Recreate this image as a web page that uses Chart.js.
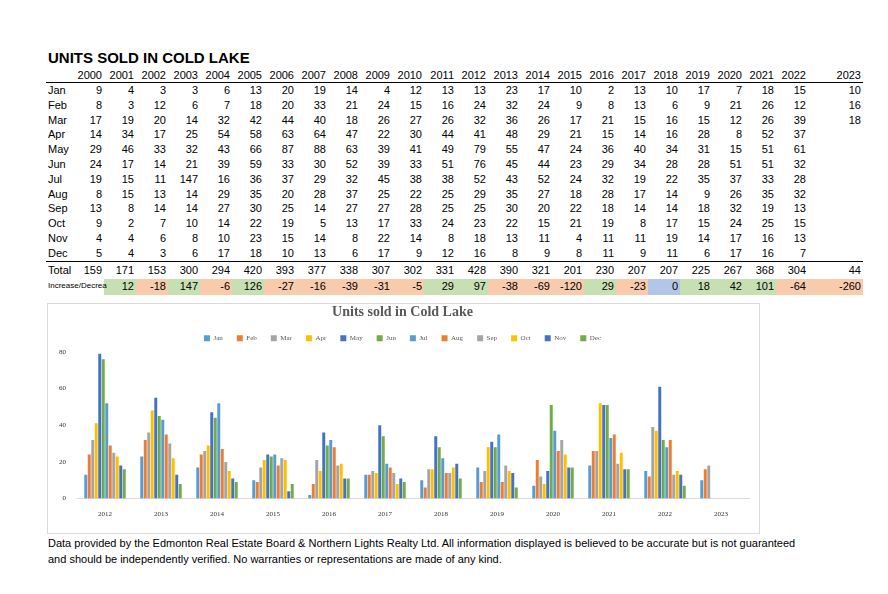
<!DOCTYPE html>
<html><head><meta charset="utf-8">
<script src="https://cdn.jsdelivr.net/npm/chart.js@4/dist/chart.umd.min.js"></script>
<style>
body{margin:0;background:#fff;font-family:Arial,"Liberation Sans",sans-serif;}
#title{position:absolute;left:48px;top:49px;font-weight:bold;font-size:15px;}
#tbl{position:absolute;left:46px;top:68px;width:817px;border-collapse:collapse;table-layout:fixed;font-size:11px;}
#tbl td{padding:0 2px 0 0;height:14.8px;line-height:14.8px;text-align:right;white-space:nowrap;overflow:hidden;}
#tbl td.lab{text-align:left;padding-left:2px;overflow:visible;position:relative;z-index:1;}
#tbl tr.hd td{border-bottom:1px solid #000;height:14px;line-height:14px;}
#tbl tr.tot td{border-top:1.5px solid #000;height:17px;}
#tbl tr.inc td{height:16px;}
#box{position:absolute;left:47px;top:303px;width:711px;height:229px;border:1px solid #d9d9d9;}
#foot{position:absolute;left:48px;top:535px;font-size:11px;line-height:16px;}
</style></head><body>
<div id="title">UNITS SOLD IN COLD LAKE</div>
<table id="tbl"></table>
<div id="box"><canvas id="grafico" width="711" height="229"></canvas></div>
<div id="foot">Data provided by the Edmonton Real Estate Board &amp; Northern Lights Realty Ltd. All information displayed is believed to be accurate but is not guaranteed<br>and should be independently verified. No warranties or representations are made of any kind.</div>
<script>
var anos = [2000,2001,2002,2003,2004,2005,2006,2007,2008,2009,2010,2011,2012,2013,2014,2015,2016,2017,2018,2019,2020,2021,2022,2023];
var meses = ['Jan','Feb','Mar','Apr','May','Jun','Jul','Aug','Sep','Oct','Nov','Dec'];
var jan = [9,4,3,3,6,13,20,19,14,4,12,13,13,23,17,10,2,13,10,17,7,18,15,10];
var feb = [8,3,12,6,7,18,20,33,21,24,15,16,24,32,24,9,8,13,6,9,21,26,12,16];
var mar = [17,19,20,14,32,42,44,40,18,26,27,26,32,36,26,17,21,15,16,15,12,26,39,18];
var apr = [14,34,17,25,54,58,63,64,47,22,30,44,41,48,29,21,15,14,16,28,8,52,37,null];
var may = [29,46,33,32,43,66,87,88,63,39,41,49,79,55,47,24,36,40,34,31,15,51,61,null];
var jun = [24,17,14,21,39,59,33,30,52,39,33,51,76,45,44,23,29,34,28,28,51,51,32,null];
var jul = [19,15,11,147,16,36,37,29,32,45,38,38,52,43,52,24,32,19,22,35,37,33,28,null];
var aug = [8,15,13,14,29,35,20,28,37,25,22,25,29,35,27,18,28,17,14,9,26,35,32,null];
var sep = [13,8,14,14,27,30,25,14,27,27,28,25,25,30,20,22,18,14,14,18,32,19,13,null];
var oct = [9,2,7,10,14,22,19,5,13,17,33,24,23,22,15,21,19,8,17,15,24,25,15,null];
var nov = [4,4,6,8,10,23,15,14,8,22,14,8,18,13,11,4,11,11,19,14,17,16,13,null];
var dec = [5,4,3,6,17,18,10,13,6,17,9,12,16,8,9,8,11,9,11,6,17,16,7,null];
var total = [159,171,153,300,294,420,393,377,338,307,302,331,428,390,321,201,230,207,207,225,267,368,304,44];
var aumento = [null,12,-18,147,-6,126,-27,-16,-39,-31,-5,29,97,-38,-69,-120,29,-23,0,18,42,101,-64,-260];
var linhas = [jan,feb,mar,apr,may,jun,jul,aug,sep,oct,nov,dec];
var cores = ['#5B9BD5','#ED7D31','#A5A5A5','#FFC000','#4472C4','#70AD47','#5B9BD5','#ED7D31','#A5A5A5','#FFC000','#4472C4','#70AD47'];

// tabela
var t = document.getElementById('tbl');
var h = '<colgroup><col style="width:26px">';
for (var i=0;i<anos.length;i++) h += '<col style="width:'+(i==23?55:32)+'px">';
h += '</colgroup><tr class="hd"><td class="lab"></td>';
anos.forEach(function(a){ h += '<td>'+a+'</td>'; });
h += '</tr>';
linhas.forEach(function(l,k){
    h += '<tr><td class="lab">'+meses[k]+'</td>';
    l.forEach(function(v){ h += '<td>'+(v===null?'':v)+'</td>'; });
    h += '</tr>';
});
h += '<tr class="tot"><td class="lab">Total</td>';
total.forEach(function(v){ h += '<td>'+v+'</td>'; });
h += '</tr><tr class="inc"><td class="lab" style="font-size:8px">Increase/Decrea</td>';
aumento.forEach(function(v){
    var bg = v===null?'transparent':(v>0?'#C6E0B4':(v<0?'#F8CBAD':'#B4C6E7'));
    h += '<td style="background:'+bg+'">'+(v===null?'':v)+'</td>';
});
h += '</tr>';
t.innerHTML = h;

// grafico
window.onload = function(){
    var contexto = document.getElementById('grafico').getContext('2d');
    var datasets = linhas.map(function(l,k){
        return {label:meses[k], backgroundColor:cores[k], data:l.slice(12), barPercentage:0.85, categoryPercentage:0.75};
    });
    new Chart(contexto, {
        type:'bar',
        data:{labels:anos.slice(12).map(String), datasets:datasets},
        options:{
            responsive:false, animation:false,
            layout:{padding:{left:8,right:10,top:0,bottom:12}},
            plugins:{
                title:{display:true,text:'Units sold in Cold Lake',color:'#595959',font:{family:'Liberation Serif',size:14,weight:'bold'},padding:{top:0,bottom:0}},
                legend:{labels:{boxWidth:6,boxHeight:6,font:{family:'Liberation Serif',size:7},color:'#595959',padding:14}}
            },
            scales:{
                x:{grid:{display:false},border:{color:'#d9d9d9'},ticks:{font:{family:'Liberation Serif',size:7},color:'#333'}},
                y:{min:0,max:80,ticks:{stepSize:20,font:{family:'Liberation Serif',size:7},color:'#333'},grid:{display:false},border:{display:false}}
            }
        }
    });
};
</script>
</body></html>
